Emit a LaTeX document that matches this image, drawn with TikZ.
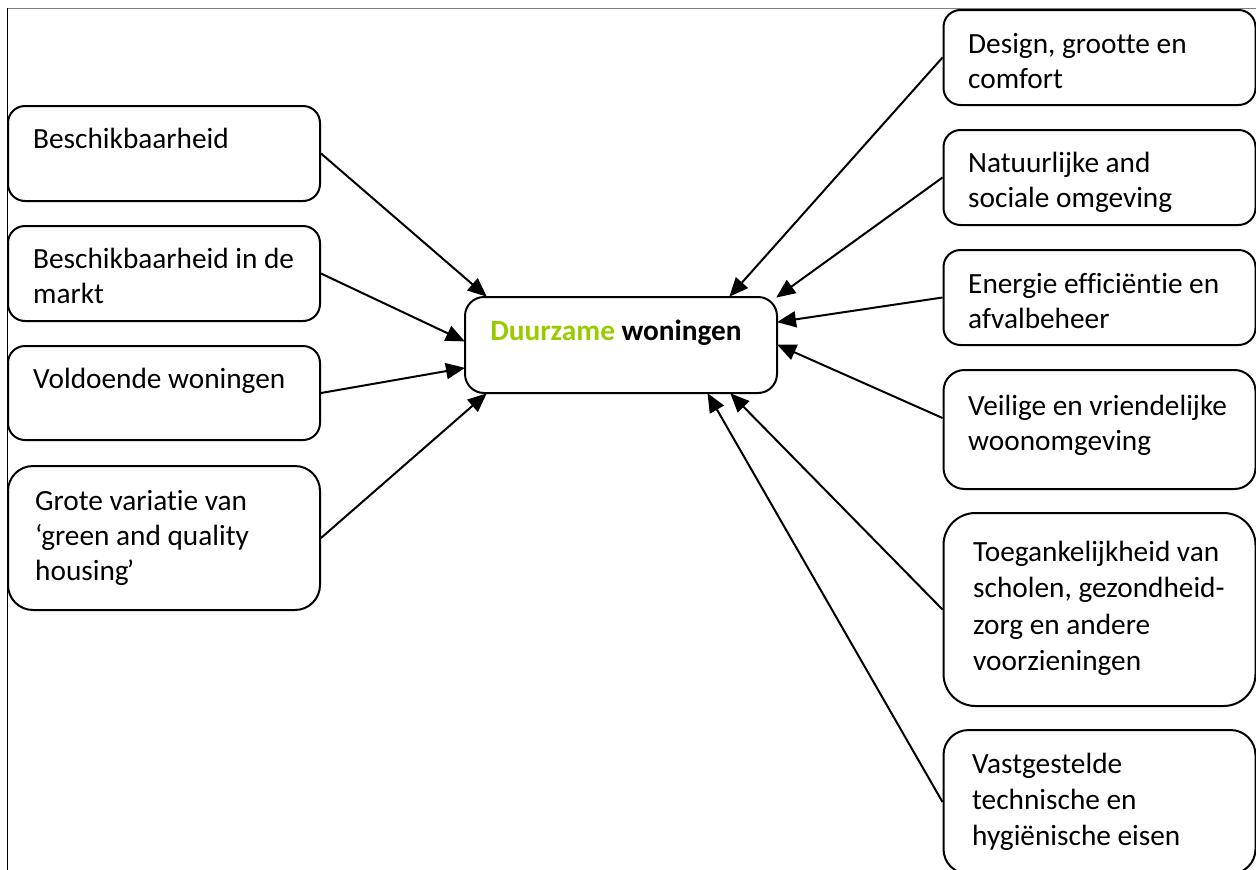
\documentclass[tikz,border=0pt]{standalone}
\usepackage{fontspec}
\setmainfont{Carlito}[Ligatures=NoCommon]
\usepackage{xcolor}
\usetikzlibrary{arrows.meta}

\definecolor{duurgreen}{RGB}{153,204,0}

\begin{document}
\begin{tikzpicture}[
  x=1pt,
  y=-1pt,
  every node/.style={font=\fontsize{29.3}{35}\selectfont},
  box/.style={draw=black, line width=2pt, fill=white, inner sep=0pt, minimum width=312pt},
  txt/.style={anchor=base west, inner sep=0pt, align=left},
  arr/.style={draw=black, line width=2pt, -{Triangle[length=19pt, width=16pt]}, shorten >=-1pt},
]

% Canvas.
\useasboundingbox (0,0) rectangle (1256,870);
\begin{scope}
\clip (0,0) rectangle (1256,870);

% Frame of the page.
\draw[gray, line width=1pt] (7,8) -- (1256,8);
\draw[black, line width=1pt] (7,8) -- (7,870);

% Centre.
\node[box, minimum height=96pt, rounded corners=19pt] (cen) at (621,345) {};
\node[anchor=base, inner sep=0pt, font=\fontsize{29.3}{35}\selectfont\bfseries] (centxt) at (616,340)
  {\textcolor{duurgreen}{Duurzame} woningen};

% Left column (text anchored on the baseline of its last line).
\node[box, minimum height=95pt, rounded corners=17pt] (besch) at (164,153.5) {};
\node[txt] (beschtxt) at (33,148) {Beschikbaarheid};

\node[box, minimum height=95pt, rounded corners=17pt] (markt) at (164,273.5) {};
\node[txt] (markttxt) at (33,303) {Beschikbaarheid in de\\markt};

\node[box, minimum height=94pt, rounded corners=17pt] (volw) at (164,393) {};
\node[txt] (volwtxt) at (33,388) {Voldoende woningen};

\node[box, minimum height=144pt, rounded corners=25pt] (vari) at (164,538) {};
\node[txt] (varitxt) at (35,580) {Grote variatie van\\‘green and quality\\housing\kern-2pt’};

% Right column.
\node[box, minimum height=95pt, rounded corners=17pt] (design) at (1099.5,57.5) {};
\node[txt] (designtxt) at (968,88) {Design, grootte en\\comfort};

\node[box, minimum height=95pt, rounded corners=17pt] (natuur) at (1099.5,177.5) {};
\node[txt] (natuurtxt) at (968,207) {Natuurlijke and\\sociale omgeving};

\node[box, minimum height=95pt, rounded corners=17pt] (energie) at (1099.5,297.5) {};
\node[txt] (energietxt) at (968,328) {Energie efficiëntie en\\afvalbeheer};

\node[box, minimum height=119pt, rounded corners=21pt] (veilig) at (1099.5,429.5) {};
\node[txt] (veiligtxt) at (968,450) {Veilige en vriendelijke\\woonomgeving};

\node[box, minimum height=193pt, rounded corners=32pt] (toeg) at (1099.5,609.5) {};
\node[txt, font=\fontsize{29.3}{36.5}\selectfont] (toegtxt) at (973,670.5) {Toegankelijkheid van\\scholen, gezondheid-\\zorg en andere\\voorzieningen};

\node[box, minimum height=144pt, rounded corners=25pt] (eisen) at (1099.5,802) {};
\node[txt, font=\fontsize{29.3}{36}\selectfont] (eisentxt) at (972,845) {Vastgestelde\\technische en\\hygiënische eisen};

% Connectors.
\draw[arr] (besch.east) -- ([xshift=22pt]cen.north west);
\draw[arr] (markt.east) -- ([yshift=4pt]cen.west);
\draw[arr] (volw.east) -- ([yshift=-23pt]cen.west);
\draw[arr] (vari.east) -- ([xshift=22pt]cen.south west);

\draw[arr] (design.west) -- ([xshift=-48pt]cen.north east);
\draw[arr] (natuur.west) -- ([xshift=-1pt,yshift=-1pt]cen.north east);
\draw[arr] (energie.west) -- ([yshift=23pt]cen.east);
\draw[arr] ([yshift=11.5pt]veilig.west) -- (cen.east);
\draw[arr] (toeg.west) -- ([xshift=-47pt]cen.south east);
\draw[arr] (eisen.west) -- ([xshift=-70pt]cen.south east);
\end{scope}

\end{tikzpicture}
\end{document}
